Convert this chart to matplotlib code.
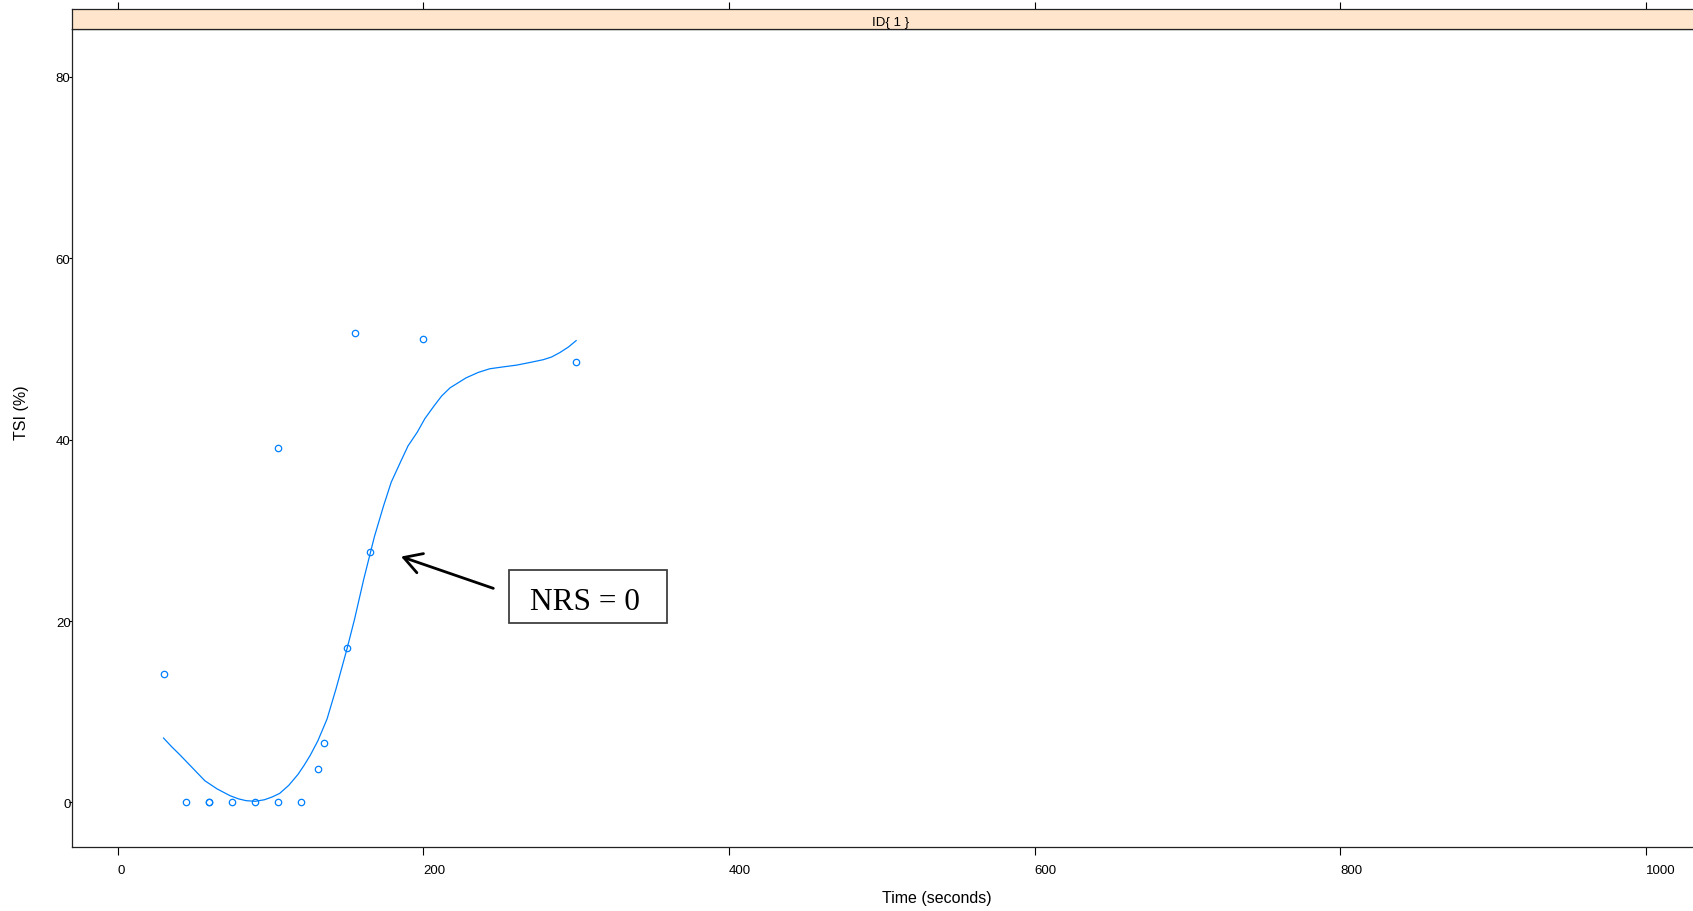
import matplotlib
matplotlib.use('Agg')
import matplotlib.pyplot as plt
from matplotlib.patches import Rectangle

plt.rcParams['font.family'] = ['Liberation Sans', 'DejaVu Sans']

# puntos medidos (tiempo en segundos, TSI en %)
time_s = [30, 45, 60, 60, 75, 90, 105, 120, 105, 131, 135, 150, 155, 165, 200, 300]
tsi = [14.2, 0, 0, 0, 0, 0, 0, 0, 39.1, 3.7, 6.5, 17.0, 51.7, 27.6, 51.1, 48.6]

# curva suavizada
smooth_t = [30, 35, 41, 49, 57, 65, 73.5, 79, 84, 90, 96, 101, 106, 112, 118, 122,
            126, 131, 137, 143, 150, 155, 161, 168, 174, 179, 185, 190, 196, 201,
            207, 212, 217.5, 228, 236, 243.5, 252, 261, 270, 278.5, 284, 289.5, 295, 300]
smooth_y = [7.1, 6.2, 5.2, 3.8, 2.4, 1.5, 0.75, 0.4, 0.2, 0.13, 0.3, 0.6, 1.0, 1.9, 3.1, 4.1,
            5.2, 6.8, 9.2, 12.6, 16.9, 20.2, 24.6, 29.3, 32.7, 35.3, 37.5, 39.3, 40.8, 42.3,
            43.7, 44.8, 45.7, 46.8, 47.4, 47.8, 48.0, 48.2, 48.5, 48.8, 49.1, 49.6, 50.2, 50.9]

x_ticks = [0, 200, 400, 600, 800, 1000]
y_ticks = [0, 20, 40, 60, 80]

blue = '#0080ff'
W, H = 1693, 912

fig = plt.figure(figsize=(16.93, 9.12), dpi=100)

# panel principal (el borde derecho queda fuera de la figura)
left, right = 71.7 / W, 1710 / W
ax = fig.add_axes([left, 1 - 848.3 / H, right - left, (848.3 - 29.5) / H])
ax.plot(smooth_t, smooth_y, color=blue, lw=0.9)
ax.plot(time_s, tsi, 'o', mfc='none', mec=blue, ms=4.6, mew=0.9)
ax.set_xlim(-30.1, 1042)
ax.set_ylim(-4.94, 85.3)
ax.set_xticks(x_ticks)
ax.set_yticks(y_ticks)
ax.tick_params(axis='x', direction='out', length=5.4, width=0.8, pad=6.5, labelsize=9.5)
ax.tick_params(axis='y', direction='out', length=2, width=0.8, pad=-1.2, labelsize=9.5)
plt.setp(ax.get_xticklabels(), ha='left')
for s in ax.spines.values():
    s.set_color('#222222')
    s.set_linewidth(0.9)

# anotacion NRS = 0
ax.annotate('', xy=(185.4, 27.1), xytext=(245.8, 23.6),
            arrowprops=dict(arrowstyle='->,head_length=0.9,head_width=0.52',
                            mutation_scale=14, lw=2, color='black',
                            shrinkA=0, shrinkB=0))
ax.add_patch(Rectangle((256.1, 19.8), 103.6, 5.8, fill=False,
                       edgecolor='#404040', lw=1.3))
ax.text(306, 21.3, 'NRS = 0', ha='center', va='baseline',
        fontsize=22.5, family=['Liberation Serif', 'DejaVu Serif'])

# franja superior con el nombre del panel
strip = fig.add_axes([left, 1 - 29.5 / H, right - left, 19.5 / H])
strip.set_facecolor('#ffe5cc')
strip.set_xlim(ax.get_xlim())
strip.set_ylim(0, 1)
strip.set_xticks(x_ticks)
strip.set_yticks([])
strip.tick_params(axis='x', bottom=False, labelbottom=False, top=True,
                  direction='out', length=5, width=0.8)
for s in strip.spines.values():
    s.set_color('#222222')
    s.set_linewidth(0.9)
strip.text(0.5, 0.33, 'ID{ 1 }', transform=strip.transAxes,
           ha='center', va='center', fontsize=9.5)

# titulos de ejes
fig.text(937 / W, 1 - 899 / H, 'Time (seconds)', ha='center', va='center', fontsize=11.5)
fig.text(21.7 / W, 1 - 412.5 / H, 'TSI (%)', rotation=90, ha='center', va='center',
         fontsize=11.5)

fig.savefig('out.png', dpi=100)
